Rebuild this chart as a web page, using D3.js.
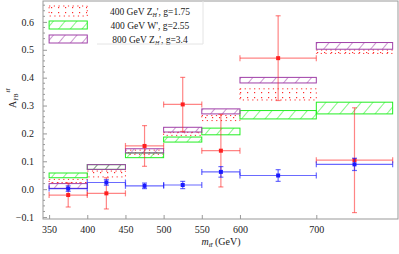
<!DOCTYPE html>
<html>
<head>
<meta charset="utf-8">
<script src="https://cdn.jsdelivr.net/npm/d3@7"></script>
<style>
  html,body{margin:0;padding:0;background:#fff;}
  svg{display:block;}
  text{font-family:"Liberation Serif","DejaVu Serif",serif;fill:#222;}
</style>
</head>
<body>
<svg id="stage" width="399" height="254"></svg>
<script>
// ---- data ----
const binEdges = [350, 400, 450, 500, 550, 600, 700, 800];
const zh400Lo = [0.024, 0.044, 0.125, 0.193, 0.246, 0.320, 0.487];
const zh400Hi = [0.035, 0.065, 0.140, 0.204, 0.264, 0.360, 0.499];
const wpLo    = [0.041, 0.071, 0.113, 0.169, 0.195, 0.252, 0.270];
const wpHi    = [0.058, 0.088, 0.130, 0.187, 0.219, 0.282, 0.312];
const zh800Lo = [0.003, 0.071, 0.130, 0.205, 0.270, 0.381, 0.502];
const zh800Hi = [0.020, 0.088, 0.145, 0.222, 0.288, 0.401, 0.526];
const redVal  = [-0.021, -0.015, 0.155, 0.304, 0.138, 0.470, 0.104];
const redErr  = [0.043, 0.056, 0.073, 0.097, 0.130, 0.152, 0.188];
const blueVal = [0.002, 0.024, 0.012, 0.015, 0.062, 0.049, 0.089];
const blueErr = [0.010, 0.010, 0.010, 0.013, 0.019, 0.021, 0.022];
const xTicks  = [350, 400, 450, 500, 550, 600, 700];
const yTicks  = [-0.1, 0, 0.1, 0.2, 0.3, 0.4, 0.5, 0.6];
const legendLabels = ["400 GeV Z", "400 GeV W', g=2.55", "800 GeV Z"];

const svg = d3.select("#stage");
const L = 43, R = 398, T = 1, B = 219;
const x = d3.scaleLinear().domain([342, 807]).range([L, R]);
const y = d3.scaleLinear().domain([-0.107, 0.675]).range([B, T]);

const RED = "#ff2a2a", GREEN = "#22ee22", PURPLE = "#a040a8";

// ---- patterns ----
const defs = svg.append("defs");
function hatch(id, color){
  const p = defs.append("pattern").attr("id", id).attr("patternUnits","userSpaceOnUse")
    .attr("width", 9).attr("height", 9).attr("patternTransform","rotate(40)");
  p.append("line").attr("x1",0).attr("y1",0).attr("x2",0).attr("y2",9)
    .attr("stroke", color).attr("stroke-width", 1.1);
}
hatch("hGreen", GREEN);
hatch("hPurple", PURPLE);
const dots = defs.append("pattern").attr("id","dRed").attr("patternUnits","userSpaceOnUse")
  .attr("width", 7).attr("height", 5);
dots.append("rect").attr("x",2).attr("y",2).attr("width",1.2).attr("height",1.2).attr("fill",RED);

// ---- frame + ticks ----
svg.append("rect").attr("x",L).attr("y",T).attr("width",R-L).attr("height",B-T)
  .attr("fill","none").attr("stroke","#999").attr("stroke-width",1);

const gx = svg.append("g").attr("transform",`translate(0,${B})`)
  .call(d3.axisBottom(x).tickValues(xTicks).tickSize(-4).tickFormat(d3.format("d")));
gx.select(".domain").remove();
gx.selectAll("line").attr("stroke","#999");
gx.selectAll("text").attr("dy","1.1em").style("font-size","10px");

const minorY = d3.range(-0.1, 0.661, 0.02).filter(v => Math.abs(Math.round(v*10)-v*10) > 0.01);
svg.append("g").selectAll("line").data(minorY).join("line")
  .attr("x1",L).attr("x2",L+2).attr("y1",d=>y(d)).attr("y2",d=>y(d))
  .attr("stroke","#999");
const gy = svg.append("g").attr("transform",`translate(${L},0)`)
  .call(d3.axisLeft(y).tickValues(yTicks).tickSize(-4)
    .tickFormat(d => d < 0 ? "\u22120.1" : d3.format(".1f")(d)));
gy.select(".domain").remove();
gy.selectAll("line").attr("stroke","#999");
gy.selectAll("text").attr("dx","-0.6em").style("font-size","10px");

// ---- model boxes ----
function boxes(lo, hi, fill, stroke, dash){
  svg.append("g").selectAll("rect").data(lo).join("rect")
    .attr("x",(d,i)=>x(binEdges[i]))
    .attr("width",(d,i)=>x(binEdges[i+1])-x(binEdges[i]))
    .attr("y",(d,i)=>y(hi[i]))
    .attr("height",(d,i)=>y(lo[i])-y(hi[i]))
    .attr("fill",fill).attr("stroke",stroke).attr("stroke-width",1)
    .attr("stroke-dasharray",dash||null);
}
boxes(zh400Lo, zh400Hi, "url(#dRed)", RED, "1.2,3.5");
boxes(wpLo, wpHi, "url(#hGreen)", GREEN);
boxes(zh800Lo, zh800Hi, "url(#hPurple)", PURPLE);

// ---- data points with error bars ----
function errorBars(vals, errs, color, alpha){
  const g = svg.append("g").attr("stroke",color).attr("stroke-opacity",alpha).attr("stroke-width",1.2);
  vals.forEach((v,i)=>{
    const x0 = x(binEdges[i]), x1 = x(binEdges[i+1]), xc = x((binEdges[i]+binEdges[i+1])/2);
    g.append("line").attr("x1",x0).attr("x2",x1).attr("y1",y(v)).attr("y2",y(v));
    g.append("line").attr("x1",x0).attr("x2",x0).attr("y1",y(v)-3).attr("y2",y(v)+3);
    g.append("line").attr("x1",x1).attr("x2",x1).attr("y1",y(v)-3).attr("y2",y(v)+3);
    g.append("line").attr("x1",xc).attr("x2",xc).attr("y1",y(v+errs[i])).attr("y2",y(v-errs[i]));
    g.append("line").attr("x1",xc-2.5).attr("x2",xc+2.5).attr("y1",y(v+errs[i])).attr("y2",y(v+errs[i]));
    g.append("line").attr("x1",xc-2.5).attr("x2",xc+2.5).attr("y1",y(v-errs[i])).attr("y2",y(v-errs[i]));
  });
  svg.append("g").selectAll("rect").data(vals).join("rect")
    .attr("x",(d,i)=>x((binEdges[i]+binEdges[i+1])/2)-2)
    .attr("y",d=>y(d)-2).attr("width",4).attr("height",4).attr("fill",color);
}
errorBars(redVal, redErr, "#ff2020", 0.55);
errorBars(blueVal, blueErr, "#1a1aff", 0.65);

// ---- legend ----
const legY = [[6,16],[21,29],[35,43]];
const legFill = ["url(#dRed)","url(#hGreen)","url(#hPurple)"];
const legStroke = [RED, GREEN, PURPLE];
const lg = svg.append("g");
legY.forEach((r,i)=>{
  lg.append("rect").attr("x",x(350)).attr("y",r[0]).attr("width",x(400)-x(350)).attr("height",r[1]-r[0])
    .attr("fill",legFill[i]).attr("stroke",legStroke[i]).attr("stroke-dasharray",i===0?"1.2,3.5":null);
  const t = lg.append("text").attr("x",150).attr("y",(r[0]+r[1])/2+3.5)
    .attr("text-anchor","middle").style("font-size","9.5px");
  if(i===1){ t.text(legendLabels[1]); }
  else {
    t.append("tspan").text(legendLabels[i]);
    t.append("tspan").attr("dy",2).style("font-size","6px").style("font-style","italic").text("H");
    t.append("tspan").attr("dy",-2).text(i===0?"', g=1.75":"', g=3.4");
  }
});
lg.append("path").attr("d","M97,44H203V1").attr("fill","none").attr("stroke","#e4e4e4");

// ---- axis labels ----
const yl = svg.append("text").attr("transform","translate(16,108) rotate(-90)").style("font-size","10px");
yl.append("tspan").text("A");
yl.append("tspan").attr("dy",2).style("font-size","6px").text("FB");
yl.append("tspan").attr("dy",-8).attr("dx",1).style("font-size","7px").style("font-style","italic").text("t\u0074\u0304");

const xl = svg.append("text").attr("x",221).attr("y",245).attr("text-anchor","middle").style("font-size","10px");
xl.append("tspan").style("font-style","italic").text("m");
xl.append("tspan").attr("dy",2).style("font-size","7px").style("font-style","italic").text("t\u0074\u0304");
xl.append("tspan").attr("dy",-2).text(" (GeV)");
</script>
</body>
</html>
